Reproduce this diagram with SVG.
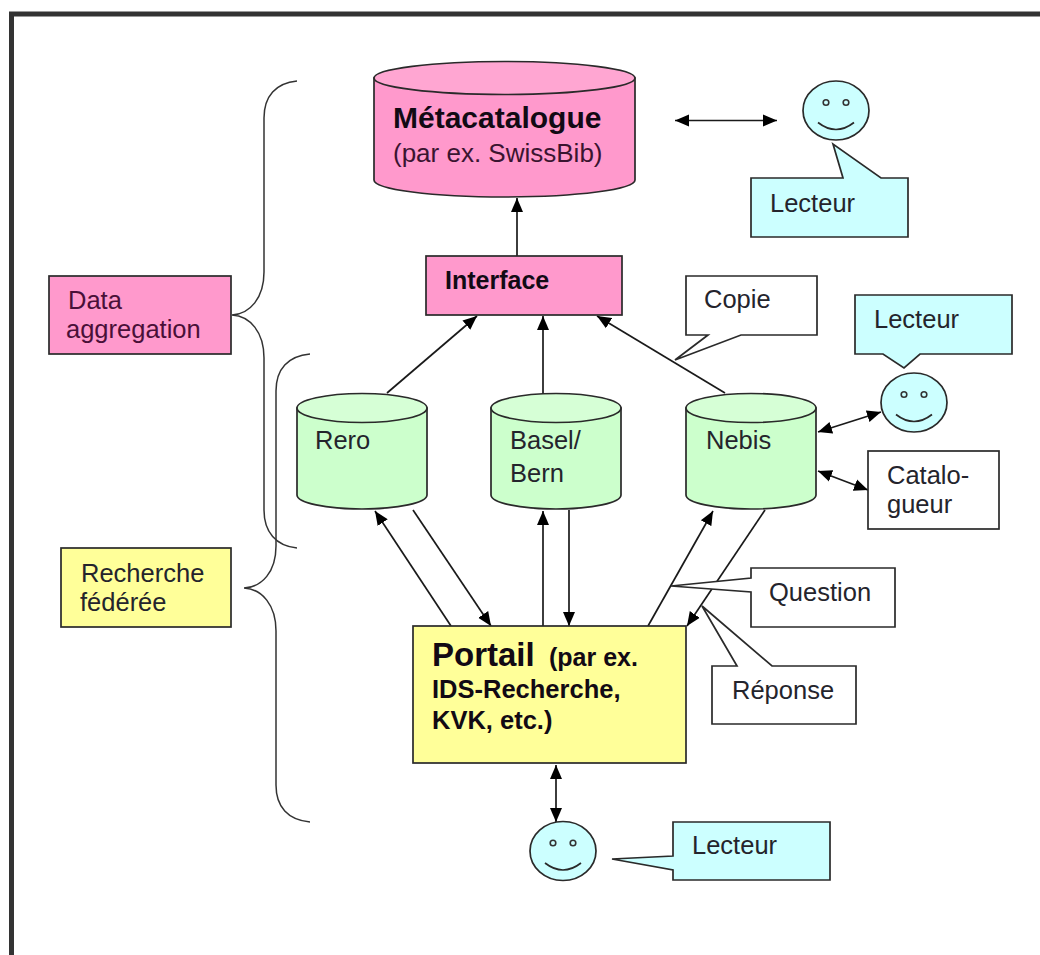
<svg xmlns="http://www.w3.org/2000/svg" width="1040" height="955" viewBox="0 0 1040 955">
<style>
text{font-family:"Liberation Sans",Arial,sans-serif;font-size:25.5px;fill:#24242c}
.b{font-weight:bold;fill:#120a14}
.s{stroke:#2a2a2a;stroke-width:1.7}
.pink{fill:#ff99cc}.pinkt{fill:#ffa6d2}.green{fill:#ccffcc}.greent{fill:#d6ffd6}.blue{fill:#ccffff}.yellow{fill:#ffff99}.white{fill:#fff}
.l{fill:none;stroke:#2a2a2a;stroke-width:1.7}
.c line{stroke:#1a1a1a;stroke-width:1.7}
.a{marker-end:url(#ah)}
.d{marker-start:url(#ahs);marker-end:url(#ah)}
.br{fill:none;stroke:#333;stroke-width:1.5}
</style>
<defs>
<marker id="ah" markerUnits="userSpaceOnUse" markerWidth="15" markerHeight="14" refX="14" refY="7" orient="auto"><path d="M0 1L14 7L0 13Z" fill="#000"/></marker>
<marker id="ahs" markerUnits="userSpaceOnUse" markerWidth="15" markerHeight="14" refX="1" refY="7" orient="auto"><path d="M15 1L1 7L15 13Z" fill="#000"/></marker>
<g id="face"><ellipse cx="0" cy="0" rx="33" ry="29.5" class="blue s"/><circle cx="-10" cy="-8" r="2.800" fill="none" stroke="#333" stroke-width="1.600"/><circle cx="10" cy="-8" r="2.800" fill="none" stroke="#333" stroke-width="1.600"/><path d="M-18 12Q0 26 18 12" class="l"/></g>
<g id="dbg"><path d="M-65 15V102A65 14 0 0 0 65 102V15Z" class="green s"/><ellipse cx="0" cy="15" rx="65" ry="14.500" class="greent s"/></g>
</defs>
<rect width="1040" height="955" fill="#fff"/>
<path d="M11.500 955V14H1040" fill="none" stroke="#333" stroke-width="5"/>
<g id="brace-data-aggregation"><path d="M297 81C276 83 264 96 264 118V272C264 298 250 314 232 315C250 316 264 332 264 358V510C264 532 276 546 297 548" class="br"/></g>
<g id="brace-recherche-federee"><path d="M310 354C288 356 276 369 276 391V546C276 572 262 587 244 588C262 589 276 605 276 631V785C276 807 288 820 310 822" class="br"/></g>
<g id="connectors" class="c">
<line class="a" x1="517" y1="256" x2="517" y2="198"/>
<line class="a" x1="387" y1="393" x2="477" y2="316"/>
<line class="a" x1="543" y1="393" x2="543" y2="316"/>
<line class="a" x1="725" y1="393" x2="597" y2="316"/>
<line class="a" x1="451" y1="626" x2="375" y2="511"/>
<line class="a" x1="413" y1="510" x2="491" y2="626"/>
<line class="a" x1="543" y1="626" x2="543" y2="511"/>
<line class="a" x1="569" y1="510" x2="569" y2="626"/>
<line class="a" x1="648" y1="626" x2="713" y2="511"/>
<line class="a" x1="765" y1="510" x2="687" y2="626"/>
<line class="d" x1="675" y1="120.500" x2="777" y2="120.500"/>
<line class="d" x1="818" y1="432" x2="881" y2="412"/>
<line class="d" x1="818" y1="471" x2="868" y2="490"/>
<line class="d" x1="556" y1="765" x2="556" y2="822"/>
</g>
<g id="metacatalogue"><path d="M374 78V180A130.500 17 0 0 0 635 180V78Z" class="pink s"/><ellipse cx="504.500" cy="78" rx="130.500" ry="16.500" class="pinkt s"/><text class="b" x="393" y="128" style="font-size:30px">Métacatalogue</text><text x="393" y="162" style="font-size:26px;fill:#3a1430">(par ex. SwissBib)</text></g>
<g id="interface"><rect x="426" y="256" width="196" height="59" class="pink s"/><text class="b" x="445" y="289" style="font-size:25px">Interface</text></g>
<g id="rero"><use href="#dbg" x="362" y="393"/><text x="315" y="449">Rero</text></g>
<g id="basel-bern"><use href="#dbg" x="556" y="393"/><text x="510" y="449">Basel/</text><text x="510" y="482">Bern</text></g>
<g id="nebis"><use href="#dbg" x="751" y="393"/><text x="706" y="449">Nebis</text></g>
<g id="portail"><rect x="413" y="626" width="273" height="137" class="yellow s"/><text class="b" x="432" y="666" style="font-size:33px">Portail</text><text class="b" x="549" y="666" style="font-size:25px">(par ex.</text><text class="b" x="432" y="698" style="font-size:25.500px">IDS-Recherche,</text><text class="b" x="432" y="729" style="font-size:25.500px">KVK, etc.)</text></g>
<g id="data-aggregation"><rect x="49" y="276" width="182" height="78" class="pink s"/><text x="68" y="309" style="fill:#4a1038">Data</text><text x="66" y="338" style="fill:#4a1038">aggregation</text></g>
<g id="recherche-federee"><rect x="61" y="548" width="170" height="79" class="yellow s"/><text x="81" y="582">Recherche</text><text x="80" y="611">fédérée</text></g>
<g id="catalogueur"><rect x="868" y="451" width="131" height="78" class="white s"/><text x="887" y="484">Catalo-</text><text x="887" y="513">gueur</text></g>
<g id="lecteur-top-face"><use href="#face" x="836" y="110.500"/></g>
<g id="lecteur-right-face"><use href="#face" x="914" y="402.500"/></g>
<g id="lecteur-bottom-face"><use href="#face" x="563" y="851"/></g>
<g id="callout-lecteur-top"><path d="M751 178H843L833 144L881 178H908V237H751Z" class="blue s"/><text x="770" y="212">Lecteur</text></g>
<g id="callout-copie"><path d="M686 276H817V335H741L675 360L708 335H686Z" class="white s"/><text x="704" y="308">Copie</text></g>
<g id="callout-lecteur-right"><path d="M855 295H1012V354H920L904 368L883 354H855Z" class="blue s"/><text x="874" y="328">Lecteur</text></g>
<g id="callout-question"><path d="M751 568H895V627H751V592L671 586L751 578Z" class="white s"/><text x="769" y="601">Question</text></g>
<g id="callout-reponse"><path d="M712 666H737L702 606L772 666H856V724H712Z" class="white s"/><text x="732" y="699">Réponse</text></g>
<g id="callout-lecteur-bottom"><path d="M673 822H830V880H673V870L612 859L673 856Z" class="blue s"/><text x="692" y="854">Lecteur</text></g>
</svg>
